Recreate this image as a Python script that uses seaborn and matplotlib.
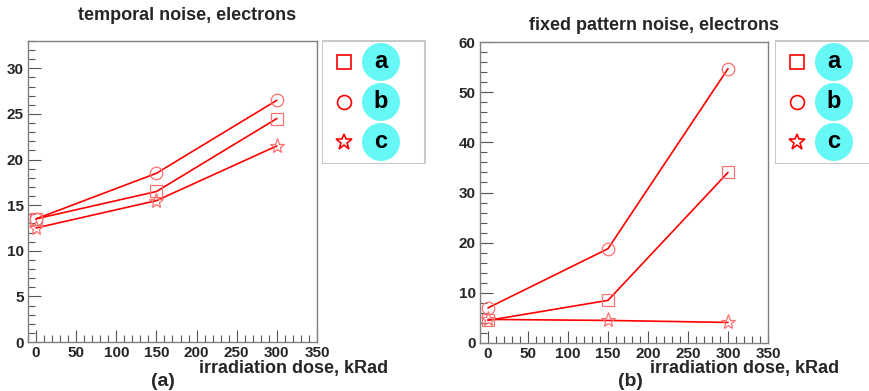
import pandas as pd
import matplotlib
matplotlib.use('Agg')
import matplotlib.pyplot as plt
import seaborn as sns
from matplotlib.ticker import MultipleLocator
from matplotlib.patches import Circle, Rectangle

# data
dose = [0, 150, 300]
series = ['a', 'b', 'c']
temporal_a = [13.5, 16.5, 24.5]
temporal_b = [13.5, 18.5, 26.5]
temporal_c = [12.5, 15.5, 21.5]
fpn_a = [4.5, 8.5, 34.0]
fpn_b = [7.0, 18.8, 54.7]
fpn_c = [4.7, 4.5, 4.1]

titles = ['temporal noise, electrons', 'fixed pattern noise, electrons']
panel_labels = ['(a)', '(b)']


def long_df(a, b, c):
    rows = []
    for name, vals in zip(series, [a, b, c]):
        for d, v in zip(dose, vals):
            rows.append({'dose': d, 'value': v, 'series': name})
    return pd.DataFrame(rows)


df_t = long_df(temporal_a, temporal_b, temporal_c)
df_f = long_df(fpn_a, fpn_b, fpn_c)

sns.set_style('ticks')
plt.rcParams['font.family'] = ['Liberation Sans', 'DejaVu Sans']
plt.rcParams['font.weight'] = 'bold'

W, H = 870, 391
fig = plt.figure(figsize=(W / 100, H / 100), dpi=100)


def px_axes(x0, y0, x1, y1):
    return fig.add_axes([x0 / W, 1 - y1 / H, (x1 - x0) / W, (y1 - y0) / H])


markers = {'a': 's', 'b': 'o', 'c': '*'}
msizes = {'a': 9, 'b': 9, 'c': 11}
red = '#ff0000'
pink = '#ff7070'


def draw_panel(ax, df, ymax, ymaj, ymin):
    sns.lineplot(data=df, x='dose', y='value', units='series', estimator=None,
                 color=red, lw=1.2, ax=ax, legend=False)
    for name in series:
        sub = df[df['series'] == name]
        sns.lineplot(data=sub, x='dose', y='value', color=red, lw=0,
                     marker=markers[name], markersize=msizes[name],
                     markerfacecolor='none', markeredgecolor=pink,
                     markeredgewidth=0.9, ax=ax, legend=False)
    ax.set_xlim(-10, 350)
    ax.set_ylim(0, ymax)
    ax.xaxis.set_major_locator(MultipleLocator(50))
    ax.xaxis.set_minor_locator(MultipleLocator(10))
    ax.yaxis.set_major_locator(MultipleLocator(ymaj))
    ax.yaxis.set_minor_locator(MultipleLocator(ymin))
    ax.tick_params(which='both', direction='in', color='#555555', width=0.8,
                   labelsize=11, pad=3, top=False, right=False)
    ax.tick_params(which='major', length=9)
    ax.tick_params(which='minor', length=5)
    for lab in ax.get_xticklabels() + ax.get_yticklabels():
        lab.set_fontweight('bold')
    for s in ax.spines.values():
        s.set_color('#808080')
        s.set_linewidth(1.0)
    ax.set_xlabel('')
    ax.set_ylabel('')


def draw_legend(x0):
    lax = px_axes(x0, 40, x0 + 104, 164)
    lax.set_xlim(0, 104)
    lax.set_ylim(124, 0)
    lax.axis('off')
    lax.add_patch(Rectangle((0.5, 0.5), 103, 123, fill=False, ec='#c8c8c8', lw=1.5))
    for i, name in enumerate(series):
        yc = 22 + 40 * i
        lax.add_patch(Circle((59, yc), 19, color='#66f7f7', ec='none'))
        lax.text(59, yc, name, ha='center', va='center', fontsize=17,
                 fontweight='bold', color='black')
        lax.plot([22], [yc], marker=markers[name], markersize=msizes[name] + 1,
                 mfc='none', mec=red, mew=1.2)


ax1 = px_axes(28, 41, 317, 342)
draw_panel(ax1, df_t, 33, 5, 1)
ax2 = px_axes(480, 42, 768, 343)
draw_panel(ax2, df_f, 60, 10, 2)

draw_legend(322)
draw_legend(775)

fig.text(187 / W, 1 - 16 / H, titles[0], ha='center', va='center', fontsize=13, fontweight='bold')
fig.text(654 / W, 1 - 26 / H, titles[1], ha='center', va='center', fontsize=13, fontweight='bold')
for xr in [388, 839]:
    fig.text(xr / W, 1 - 368 / H, 'irradiation dose, kRad', ha='right', va='center',
             fontsize=13, fontweight='bold')
fig.text(163 / W, 1 - 382 / H, panel_labels[0], ha='center', va='center', fontsize=14, fontweight='bold')
fig.text(630 / W, 1 - 382 / H, panel_labels[1], ha='center', va='center', fontsize=14, fontweight='bold')

fig.savefig('out.png', dpi=100)
